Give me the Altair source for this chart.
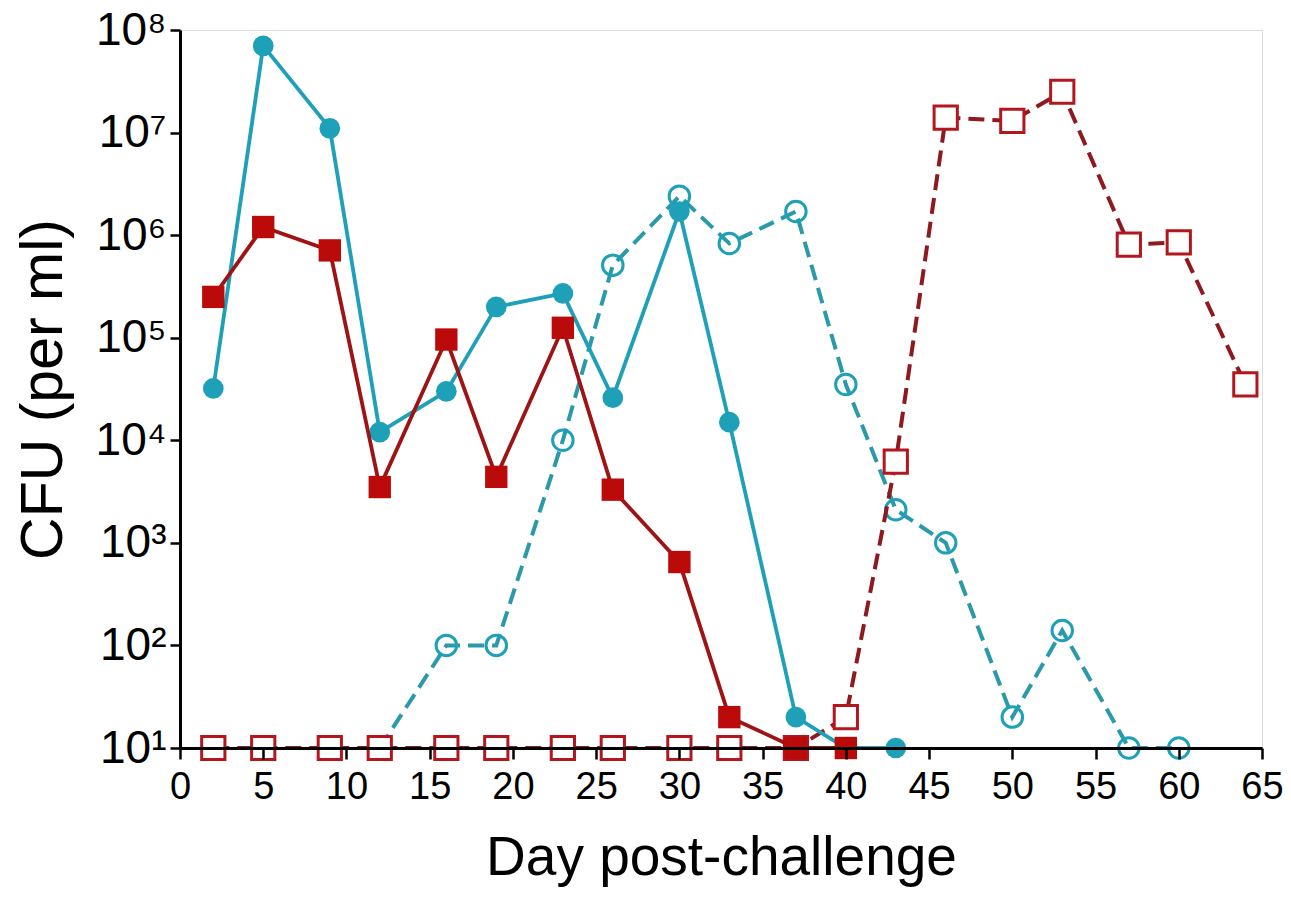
import altair as alt
import pandas as pd

# ---- data ----
days_cyan_filled = [2, 5, 9, 12, 16, 19, 23, 26, 30, 33, 37, 40, 43]
cfu_cyan_filled = [3.2e4, 7.0e7, 1.1e7, 1.2e4, 3.0e4, 2.0e5, 2.7e5, 2.6e4, 1.7e6, 1.5e4, 20, 10, 10]

days_cyan_open = [12, 16, 19, 23, 26, 30, 33, 37, 40, 43, 46, 50, 53, 57, 60]
cfu_cyan_open = [10, 100, 100, 1.0e4, 5.1e5, 2.4e6, 8.3e5, 1.7e6, 3.5e4, 2.1e3, 1.0e3, 20, 140, 10, 10]

days_red_filled = [2, 5, 9, 12, 16, 19, 23, 26, 30, 33, 37, 40]
cfu_red_filled = [2.5e5, 1.2e6, 7.1e5, 3.5e3, 9.6e4, 4.4e3, 1.25e5, 3.3e3, 650, 20, 10, 10]

days_red_open = [2, 5, 9, 12, 16, 19, 23, 26, 30, 33, 37, 40, 43, 46, 50, 53, 57, 60, 64]
cfu_red_open = [10, 10, 10, 10, 10, 10, 10, 10, 10, 10, 10, 20, 6.2e3, 1.4e7, 1.3e7, 2.5e7, 8.1e5, 8.5e5, 3.5e4]

x_ticks = list(range(0, 70, 5))
y_ticks = [1e1, 1e2, 1e3, 1e4, 1e5, 1e6, 1e7, 1e8]

FONT = "Liberation Sans"
CYAN = "#1ea0b8"
CYAN_DASH = "#2a9aab"
RED = "#bb0a0a"
RED_LINE = "#9e1414"
RED_DASH = "#8e1a1f"


def frame(days, vals):
    return pd.DataFrame({"day": days, "cfu": vals})


x_enc = alt.X(
    "day:Q",
    scale=alt.Scale(domain=[0, 65], nice=False, zero=False),
    axis=alt.Axis(
        title="Day post-challenge",
        values=x_ticks,
        format="d",
        grid=False,
        domainColor="black",
        domainWidth=3,
        tickColor="black",
        tickWidth=2.5,
        tickSize=11,
        labelFont=FONT,
        labelFontSize=38,
        labelColor="black",
        labelPadding=9,
        labelFlush=False,
        labelOverlap=False,
        titleFont=FONT,
        titleFontSize=55,
        titleFontWeight="normal",
        titleColor="black",
        titlePadding=25,
        zindex=1,
    ),
)

sup = "['⁰','¹','²','³','⁴','⁵','⁶','⁷','⁸','⁹']"
y_enc = alt.Y(
    "cfu:Q",
    scale=alt.Scale(type="log", domain=[10, 1e8], nice=False),
    axis=alt.Axis(
        title="CFU (per ml)",
        values=y_ticks,
        labelExpr="'10' + " + sup + "[round(log(datum.value)/LN10)]",
        grid=False,
        domainColor="black",
        domainWidth=3,
        tickColor="black",
        tickWidth=2.5,
        tickSize=10,
        labelFont=FONT,
        labelFontSize=46,
        labelColor="black",
        labelPadding=4,
        labelFlush=False,
        labelOverlap=False,
        titleFont=FONT,
        titleFontSize=59,
        titleFontWeight="normal",
        titleColor="black",
        titlePadding=22,
        zindex=1,
    ),
)

df_cf = frame(days_cyan_filled, cfu_cyan_filled)
df_co = frame(days_cyan_open, cfu_cyan_open)
df_rf = frame(days_red_filled, cfu_red_filled)
df_ro = frame(days_red_open, cfu_red_open)

cyan_open_line = alt.Chart(df_co).mark_line(
    color=CYAN_DASH, strokeWidth=4, strokeDash=[16, 8]
).encode(x=x_enc, y=y_enc)
cyan_open_pts = alt.Chart(df_co).mark_point(
    shape="circle", filled=False, color=CYAN, strokeWidth=3, size=420, opacity=1
).encode(x="day:Q", y="cfu:Q")

red_open_line = alt.Chart(df_ro).mark_line(
    color=RED_DASH, strokeWidth=4, strokeDash=[16, 8]
).encode(x="day:Q", y="cfu:Q")
red_open_pts = alt.Chart(df_ro).mark_point(
    shape="square", filled=True, fill="white", stroke="#b3161c", strokeWidth=3,
    size=540, opacity=1, fillOpacity=1
).encode(x="day:Q", y="cfu:Q")

cyan_filled_line = alt.Chart(df_cf).mark_line(
    color=CYAN, strokeWidth=3.8
).encode(x="day:Q", y="cfu:Q")
cyan_filled_pts = alt.Chart(df_cf).mark_point(
    shape="circle", filled=True, color=CYAN, size=430, opacity=1
).encode(x="day:Q", y="cfu:Q")

red_filled_line = alt.Chart(df_rf).mark_line(
    color=RED_LINE, strokeWidth=3.8
).encode(x="day:Q", y="cfu:Q")
red_filled_pts = alt.Chart(df_rf).mark_point(
    shape="square", filled=True, color=RED, size=500, opacity=1
).encode(x="day:Q", y="cfu:Q")

chart = alt.layer(
    cyan_open_line, cyan_open_pts,
    red_open_line, red_open_pts,
    cyan_filled_line, cyan_filled_pts,
    red_filled_line, red_filled_pts,
).properties(
    width=1082,
    height=718,
    autosize=alt.AutoSizeParams(type="none"),
    padding={"left": 172, "top": 22, "right": 21, "bottom": 140},
).configure_view(stroke=None).configure(background="white")

chart.save("out.html", embed_options={"renderer": "svg", "actions": False})
